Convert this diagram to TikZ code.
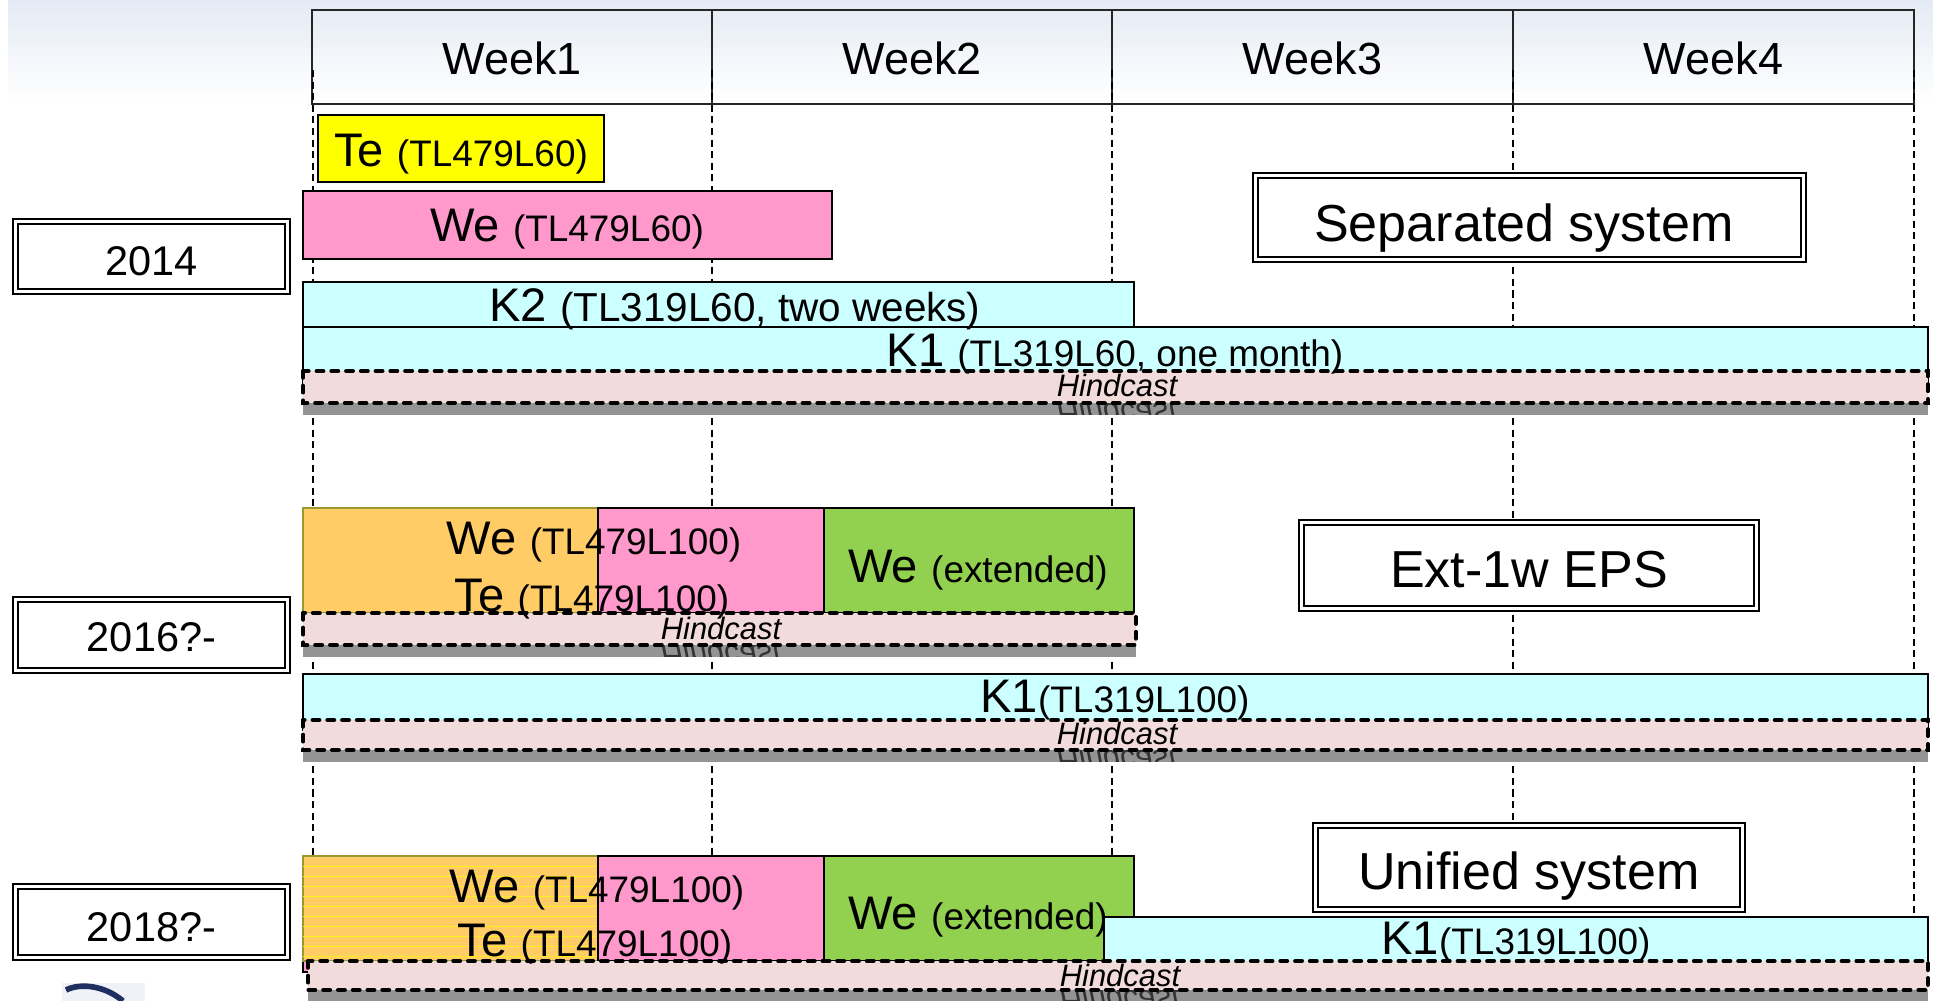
\documentclass[tikz,border=0pt]{standalone}
\usepackage{fontspec}
\setmainfont{Liberation Sans}
\usepackage{tikz}
\definecolor{teyellow}{HTML}{FFFF00}
\definecolor{wepink}{HTML}{FF99CC}
\definecolor{kcyan}{HTML}{CCFFFF}
\definecolor{mixorange}{HTML}{FFCC66}
\definecolor{extgreen}{HTML}{92D050}
\definecolor{hindpink}{HTML}{F2DCDB}
\definecolor{topgray}{HTML}{E4EAF4}
\definecolor{oliveline}{HTML}{999933}
\definecolor{logonavy}{HTML}{1F2F5F}
\newcommand\wkfont{\fontsize{12.8pt}{15pt}\selectfont}
\newcommand\lgfont{\fontsize{13.4pt}{16pt}\selectfont}
\newcommand\smfont{\fontsize{10.5pt}{12pt}\selectfont}
\newcommand\kfont{\fontsize{11.5pt}{13pt}\selectfont}
\newcommand\yrfont{\fontsize{11.8pt}{14pt}\selectfont}
\newcommand\sysfont{\fontsize{14.8pt}{17pt}\selectfont}
\newcommand\hcfont{\fontsize{8.8pt}{10pt}\selectfont\itshape}
\def\hindcast(#1,#2)(#3,#4)(#5,#6)#7{%
	\begin{scope}
		\clip (#1,#4) rectangle (#3,#4+12);
		\fill[black!42] (#1,#4) rectangle (#3,#4+12);
		\begin{scope}[shift={(#5,#4)}, yscale=-1]
			\node[lbl, font=\hcfont, text=black!80, transform shape] at (0,-1) {Hindcast};
		\end{scope}
	\end{scope}
	\draw[hindframe] (#1,#2) rectangle (#3,#4);
	\node[lbl, font=\hcfont] (#7) at (#5,#6) {Hindcast};}

\begin{document}
\begin{tikzpicture}[x=0.01cm, y=-0.01cm,
	gridline/.style={line width=0.3pt, dash pattern=on 2pt off 1.3pt},
	hdrline/.style={line width=0.4pt, draw=black!85},
	barline/.style={line width=0.45pt, draw=black},
	sysframe/.style={draw=black, fill=white, double, line width=0.65pt, double distance=0.6pt},
	hindframe/.style={fill=hindpink, draw=black, line width=1.2pt, line cap=round, dash pattern=on 1.9pt off 2.3pt},
	lbl/.style={anchor=base, inner sep=0pt}]
		%%%%% START %%%%%
		\useasboundingbox (0,0) rectangle (1933,1001);
		\shade[top color=topgray, bottom color=white] (8,0) rectangle (1933,100);
		
		% week header
		\draw[hdrline] (312,10) rectangle (1914,104);
		\foreach \x in {712,1112,1513}
			\draw[hdrline] (\x,10) -- (\x,104);
		\foreach \x/\n in {512/1,912/2,1312.5/3,1713.5/4}
			\node[lbl, font=\wkfont] (week\n) at (\x,75) {Week\n};
		\foreach \x in {313,712,1112,1513,1914}
			\draw[gridline] (\x,70) -- (\x,1001);
		
		% 2014
		\draw[sysframe] (15.5,221.5) rectangle (287.5,291.5);
		\node[lbl, font=\yrfont] (y2014) at (151.5,276) {2014};
		\draw[sysframe] (1255.5,175.5) rectangle (1803.5,259.5);
		\node[lbl, font=\sysfont] (sepsys) at (1524,242) {Separated system};
		
		\draw[barline, fill=teyellow, line width=0.5pt] (318,115) rectangle (604,182);
		\node[lbl, font=\lgfont] (te14) at (461,167) {Te {\smfont (TL479L60)}};
		\draw[barline, fill=wepink] (303,191) rectangle (832,259);
		\node[lbl, font=\lgfont] (we14) at (567,242) {We {\smfont (TL479L60)}};
		\draw[barline, fill=kcyan] (303,282) rectangle (1134,327);
		\draw[barline, fill=kcyan] (303,327) rectangle (1928,385);
		\hindcast(303,371)(1928,403)(1117,397){hc14}
		\node[lbl, font=\lgfont] (k214) at (735,322) {K2 {\kfont (TL319L60, two weeks)}};
		\node[lbl, font=\lgfont] (k114) at (1115,367) {K1 {\smfont (TL319L60, one month)}};
		
		% 2016?-
		\draw[sysframe] (15.5,599.5) rectangle (287.5,670.5);
		\node[lbl, font=\yrfont] (y2016) at (151.5,652) {2016?-};
		\draw[sysframe] (1301.5,522.5) rectangle (1756.5,608.5);
		\node[lbl, font=\sysfont] (extsys) at (1529,588) {Ext-1w EPS};
		
		\draw[line width=0.3pt, draw=oliveline, fill=mixorange] (303,508) rectangle (598,613);
		\draw[barline, fill=wepink] (598,508) rectangle (824,613);
		\draw[barline, fill=extgreen] (824,508) rectangle (1134,613);
		\hindcast(303,613)(1136,645)(721,640){hc16a}
		\node[lbl, font=\lgfont] (we16) at (594,555) {We {\smfont (TL479L100)}};
		\node[lbl, font=\lgfont] (te16) at (592,612) {Te {\smfont (TL479L100)}};
		\node[lbl, font=\lgfont] (wx16) at (978,583) {We {\smfont (extended)}};
		\draw[barline, fill=kcyan] (303,674) rectangle (1928,730);
		\hindcast(303,720)(1928,750)(1117,745){hc16b}
		\node[lbl, font=\lgfont] (k116) at (1115,713) {K1{\smfont (TL319L100)}};
		
		% 2018?-
		\draw[sysframe] (15.5,886.5) rectangle (287.5,957.5);
		\node[lbl, font=\yrfont] (y2018) at (151.5,942) {2018?-};
		\draw[sysframe] (1315.5,825.5) rectangle (1742.5,909.5);
		\node[lbl, font=\sysfont] (unisys) at (1529,890) {Unified system};
		
		\draw[barline, fill=wepink] (303,940) rectangle (310,972);
		\draw[line width=0.3pt, draw=oliveline, fill=mixorange] (303,856) rectangle (598,961);
		\foreach \yy in {866,876,...,956}
			\draw[teyellow!70!mixorange, line width=0.25pt] (303,\yy) -- (598,\yy);
		\draw[barline, fill=wepink] (598,856) rectangle (824,961);
		\draw[barline, fill=extgreen] (824,856) rectangle (1134,961);
		\node[lbl, font=\lgfont] (wx18) at (978,930) {We {\smfont (extended)}};
		\draw[barline, fill=kcyan] (1104,917) rectangle (1928,970);
		\hindcast(308,961)(1928,990)(1120,987){hc18}
		\node[lbl, font=\lgfont] (we18) at (597,903) {We {\smfont (TL479L100)}};
		\node[lbl, font=\lgfont] (te18) at (595,957) {Te {\smfont (TL479L100)}};
		\node[lbl, font=\lgfont] (k118) at (1516,955) {K1{\smfont (TL319L100)}};
		
		% logo corner
		\fill[topgray!60] (62,983) rectangle (145,1001);
		\draw[logonavy, line width=1.6pt] (66,990) .. controls (80,983) and (104,985) .. (123,1001);
		%%%%% END %%%%%
\end{tikzpicture}
\end{document}
